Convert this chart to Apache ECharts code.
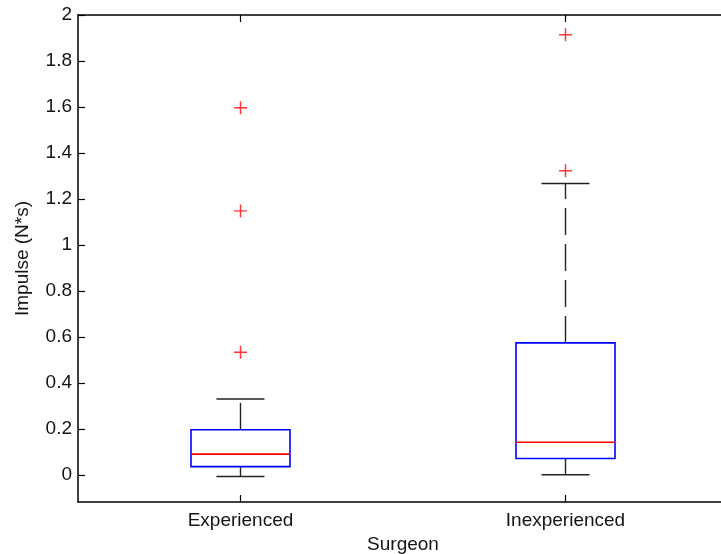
<!DOCTYPE html>
<html>
<head>
<meta charset="utf-8">
<script src="https://cdn.jsdelivr.net/npm/echarts@6/dist/echarts.min.js"></script>
<style>
  html, body { margin: 0; padding: 0; background: #fff; }
  #chart { width: 721px; height: 554px; }
</style>
</head>
<body>
<div id="chart"></div>
<script>
// Impulse per surgeon group, box-and-whisker summary
const categories = ['Experienced', 'Inexperienced'];
const whiskerLow = [-0.007, 0.0];
const quartile1 = [0.036, 0.071];
const medians = [0.090, 0.142];
const quartile3 = [0.196, 0.574];
const whiskerHigh = [0.330, 1.267];
const outliersExperienced = [0.533, 1.148, 1.597];
const outliersInexperienced = [1.323, 1.914];
const yTicks = [0, 0.2, 0.4, 0.6, 0.8, 1, 1.2, 1.4, 1.6, 1.8, 2];

const boxData = categories.map((c, i) => [i, whiskerLow[i], quartile1[i], medians[i], quartile3[i], whiskerHigh[i]]);
const outlierData = []
  .concat(outliersExperienced.map(v => [0, v]))
  .concat(outliersInexperienced.map(v => [1, v]));

const FONT = '"Liberation Sans", Arial, sans-serif';
const TEXT = '#141414';

function renderBox(params, api) {
  const i = api.value(0);
  const lo = api.coord([i, api.value(1)]);
  const q1 = api.coord([i, api.value(2)]);
  const md = api.coord([i, api.value(3)]);
  const q3 = api.coord([i, api.value(4)]);
  const hi = api.coord([i, api.value(5)]);
  const x = lo[0];
  const halfBox = 49.5, halfCap = 24;
  const whisker = { stroke: '#222', lineWidth: 1.4, lineDash: [27, 9] };
  const cap = { stroke: '#222', lineWidth: 1.5 };
  return {
    type: 'group',
    children: [
      { type: 'line', shape: { x1: x, y1: q3[1], x2: x, y2: hi[1] }, style: whisker },
      { type: 'line', shape: { x1: x, y1: q1[1], x2: x, y2: lo[1] }, style: whisker },
      { type: 'line', shape: { x1: x - halfCap, y1: hi[1], x2: x + halfCap, y2: hi[1] }, style: cap },
      { type: 'line', shape: { x1: x - halfCap, y1: lo[1], x2: x + halfCap, y2: lo[1] }, style: cap },
      { type: 'rect', shape: { x: x - halfBox, y: q3[1], width: halfBox * 2, height: q1[1] - q3[1] },
        style: { fill: 'none', stroke: '#0000ff', lineWidth: 1.6 } },
      { type: 'line', shape: { x1: x - halfBox, y1: md[1], x2: x + halfBox, y2: md[1] },
        style: { stroke: '#ff0000', lineWidth: 1.6 } }
    ]
  };
}

const chart = echarts.init(document.getElementById('chart'), null, { renderer: 'canvas' });

const frameLine = { show: true, onZero: false, lineStyle: { color: '#000', width: 1.5 } };

chart.setOption({
  animation: false,
  backgroundColor: '#fff',
  grid: { left: 78, top: 15, width: 650, height: 487, containLabel: false, outerBoundsMode: 'none' },
  xAxis: [
    {
      type: 'category',
      data: categories,
      boundaryGap: true,
      position: 'bottom',
      name: 'Surgeon',
      nameLocation: 'middle',
      nameGap: 29,
      nameTextStyle: { fontFamily: FONT, fontSize: 19, color: TEXT },
      axisLine: frameLine,
      axisTick: { show: true, inside: true, alignWithLabel: true, length: 7, lineStyle: { color: '#000', width: 1.2 } },
      axisLabel: { fontFamily: FONT, fontSize: 19, color: TEXT, margin: 9 },
      splitLine: { show: false }
    },
    {
      type: 'category',
      data: categories,
      boundaryGap: true,
      position: 'top',
      axisLine: frameLine,
      axisTick: { show: true, inside: true, alignWithLabel: true, length: 7, lineStyle: { color: '#000', width: 1.2 } },
      axisLabel: { show: false },
      splitLine: { show: false }
    }
  ],
  yAxis: [
    {
      type: 'value',
      min: -0.118,
      max: 2,
      position: 'left',
      name: 'Impulse (N*s)',
      nameLocation: 'middle',
      nameGap: 46,
      nameRotate: 90,
      nameTextStyle: { fontFamily: FONT, fontSize: 19, color: TEXT },
      axisLine: frameLine,
      axisTick: { show: true, inside: true, length: 7, customValues: yTicks, lineStyle: { color: '#000', width: 1.2 } },
      axisLabel: { fontFamily: FONT, fontSize: 19, color: TEXT, margin: 6, customValues: yTicks },
      splitLine: { show: false }
    },
    {
      type: 'value',
      min: -0.118,
      max: 2,
      position: 'right',
      axisLine: frameLine,
      axisTick: { show: true, inside: true, length: 7, customValues: yTicks, lineStyle: { color: '#000', width: 1.2 } },
      axisLabel: { show: false },
      splitLine: { show: false }
    }
  ],
  series: [
    {
      type: 'custom',
      name: 'Impulse',
      xAxisIndex: 0,
      yAxisIndex: 0,
      renderItem: renderBox,
      encode: { x: 0, y: [1, 2, 3, 4, 5] },
      data: boxData,
      silent: true
    },
    {
      type: 'scatter',
      name: 'Outliers',
      xAxisIndex: 0,
      yAxisIndex: 0,
      symbol: 'path://M4.45,0H5.55V4.45H10V5.55H5.55V10H4.45V5.55H0V4.45H4.45Z',
      symbolSize: 13,
      itemStyle: { color: '#ff0000' },
      data: outlierData,
      silent: true
    }
  ]
});
</script>
</body>
</html>
